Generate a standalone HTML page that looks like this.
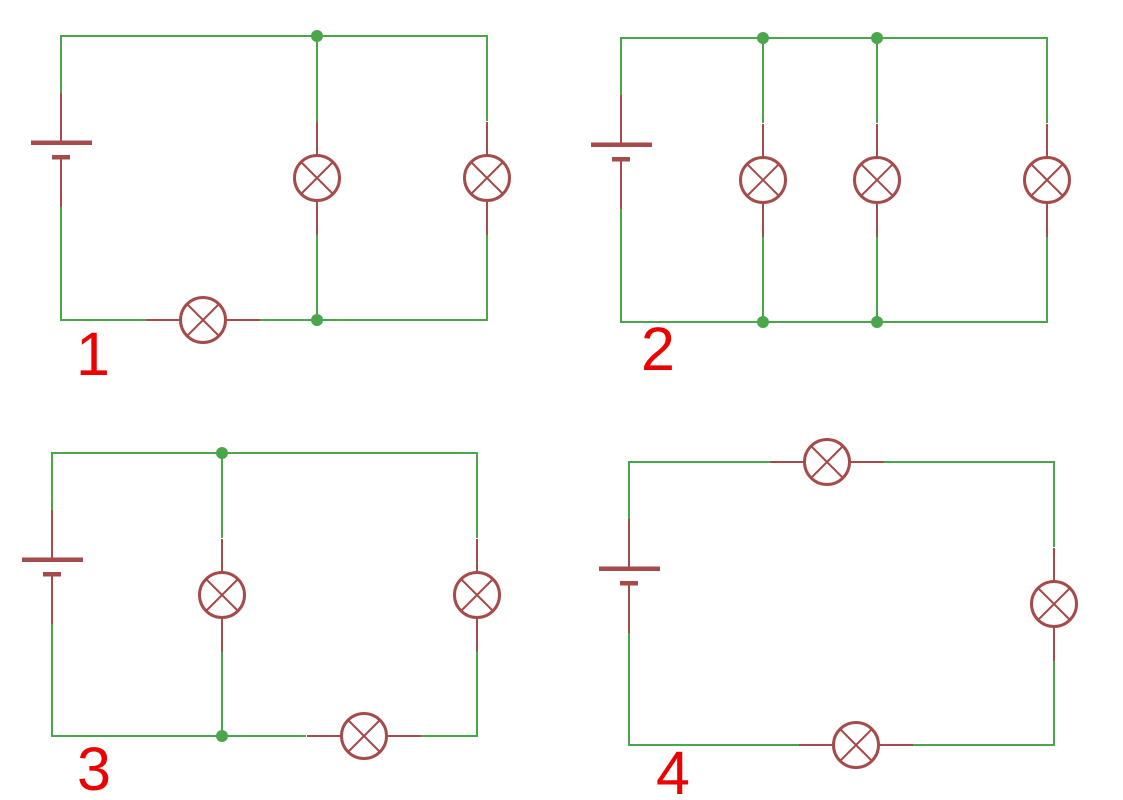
<!DOCTYPE html>
<html><head><meta charset="utf-8"><style>
html,body{margin:0;padding:0;background:#fff;}
svg{display:block;}
</style></head><body>
<svg width="1123" height="800" viewBox="0 0 1123 800" xmlns="http://www.w3.org/2000/svg">
<defs>
<g id="lampV">
  <line x1="0" y1="-56" x2="0" y2="-23" stroke="#a54b4b" stroke-width="2"/>
  <line x1="0" y1="23" x2="0" y2="57" stroke="#a54b4b" stroke-width="2"/>
  <circle cx="0" cy="0" r="22.5" fill="none" stroke="#a54b4b" stroke-width="3"/>
  <line x1="-15.5" y1="-15.5" x2="15.5" y2="15.5" stroke="#a54b4b" stroke-width="2"/>
  <line x1="15.5" y1="-15.5" x2="-15.5" y2="15.5" stroke="#a54b4b" stroke-width="2"/>
</g>
<g id="lampH">
  <line x1="-57" y1="0" x2="-23" y2="0" stroke="#a54b4b" stroke-width="2"/>
  <line x1="23" y1="0" x2="57" y2="0" stroke="#a54b4b" stroke-width="2"/>
  <circle cx="0" cy="0" r="22.5" fill="none" stroke="#a54b4b" stroke-width="3"/>
  <line x1="-15.5" y1="-15.5" x2="15.5" y2="15.5" stroke="#a54b4b" stroke-width="2"/>
  <line x1="15.5" y1="-15.5" x2="-15.5" y2="15.5" stroke="#a54b4b" stroke-width="2"/>
</g>
<!-- battery: origin at top of red lead -->
<g id="batt">
  <line x1="0" y1="0" x2="0" y2="48" stroke="#a54b4b" stroke-width="2"/>
  <rect x="-30" y="47.5" width="61" height="4.5" fill="#a54b4b"/>
  <rect x="-9" y="62" width="18" height="4.5" fill="#a54b4b"/>
  <line x1="0" y1="66" x2="0" y2="114" stroke="#a54b4b" stroke-width="2"/>
</g>
</defs>

<g fill="none" stroke="#4aa64a" stroke-width="2">
  <!-- circuit 1 -->
  <path d="M61 93 V36 H487 V121"/>
  <path d="M487 234 V320 H260"/>
  <path d="M146 320 H61 V207"/>
  <path d="M317 36 V122"/>
  <path d="M317 234 V320"/>
  <!-- circuit 2 -->
  <path d="M621 95 V38 H1047 V123"/>
  <path d="M1047 237 V322 H621 V209"/>
  <path d="M763 38 V123"/>
  <path d="M763 237 V322"/>
  <path d="M877 38 V123"/>
  <path d="M877 237 V322"/>
  <!-- circuit 3 -->
  <path d="M52 510 V453 H477 V538"/>
  <path d="M477 652 V736 H421"/>
  <path d="M306 736 H52 V624"/>
  <path d="M222 453 V538"/>
  <path d="M222 652 V736"/>
  <!-- circuit 4 -->
  <path d="M629 519 V462 H771"/>
  <path d="M884 462 H1054 V547"/>
  <path d="M1054 661 V745 H913"/>
  <path d="M799 745 H629 V633"/>
</g>

<!-- junction dots -->
<g fill="#4aa64a">
  <circle cx="317" cy="36" r="6"/>
  <circle cx="317" cy="320" r="6"/>
  <circle cx="763" cy="38" r="6"/>
  <circle cx="877" cy="38" r="6"/>
  <circle cx="763" cy="322" r="6"/>
  <circle cx="877" cy="322" r="6"/>
  <circle cx="222" cy="453" r="6"/>
  <circle cx="222" cy="736" r="6"/>
</g>

<!-- circuit 1 -->
<use href="#batt" x="61" y="93"/>
<use href="#lampV" x="317" y="178"/>
<use href="#lampV" x="487" y="178"/>
<use href="#lampH" x="203" y="320"/>

<!-- circuit 2 -->
<use href="#batt" x="621" y="95"/>
<use href="#lampV" x="763" y="180"/>
<use href="#lampV" x="877" y="180"/>
<use href="#lampV" x="1047" y="180"/>

<!-- circuit 3 -->
<use href="#batt" x="52" y="510"/>
<use href="#lampV" x="222" y="595"/>
<use href="#lampV" x="477" y="595"/>
<use href="#lampH" x="364" y="736"/>

<!-- circuit 4 -->
<use href="#batt" x="629" y="519"/>
<use href="#lampH" x="827" y="462"/>
<use href="#lampV" x="1054" y="604"/>
<use href="#lampH" x="856" y="745"/>

<!-- labels -->
<g fill="#ec0000" font-family="Liberation Sans, Arial, sans-serif" font-size="61">
  <text x="76" y="375">1</text>
  <text x="641" y="370">2</text>
  <text x="77" y="790">3</text>
  <text x="656" y="794">4</text>
</g>
</svg>
</body></html>
